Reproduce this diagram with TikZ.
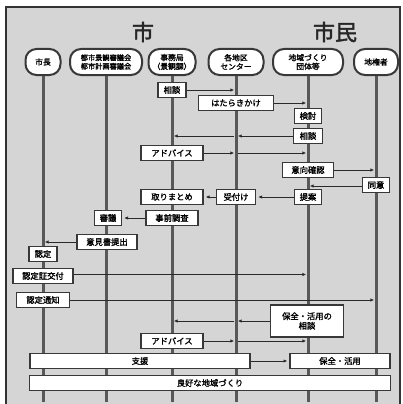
\documentclass[tikz,border=0pt]{standalone}
\usepackage{fontspec}
\newfontfamily\jp[FakeBold=1.6]{Noto Sans CJK JP}
\newfontfamily\jpt[FakeBold=1.8]{Noto Sans CJK JP}
\usetikzlibrary{arrows.meta}
\definecolor{bg}{HTML}{D5D5D5}
\definecolor{bordc}{HTML}{383838}
\definecolor{lifec}{HTML}{585858}
\definecolor{arrc}{HTML}{2A2A2A}
\definecolor{framec}{HTML}{333333}
\begin{document}
\begin{tikzpicture}[x=1pt,y=-1pt,
 hdr/.style={draw=bordc, line width=2pt, fill=white, rounded corners=11pt, minimum height=26pt, inner sep=0pt, align=center, font=\jp\fontsize{7.8}{8.8}\selectfont},
 bx/.style={draw=bordc, line width=1.8pt, fill=white, minimum height=15pt, inner sep=0pt, align=center, font=\jp\fontsize{8.3}{9.6}\selectfont},
 life/.style={draw=lifec, line width=3pt},
 arr/.style={draw=arrc, line width=0.9pt, -{Latex[length=3.8pt,width=3.4pt]}, shorten >=1.8pt},
 ttl/.style={font=\jpt\fontsize{22}{24}\selectfont, text=black!85},
]
\useasboundingbox (0,0) rectangle (402,404);
\fill[white] (0,0) rectangle (402,404);
\draw[fill=bg, draw=framec, line width=2pt] (6,7) rectangle (400,407);

\node[ttl] (t1) at (143,32) {市};
\node[ttl] (t2) at (335,32) {市民};

% headers
\node[hdr, minimum width=35pt] (h1) at (43,62) {市長};
\node[hdr, minimum width=72pt, font=\jp\fontsize{7.2}{8.6}\selectfont] (h2) at (106,62) {都市景観審議会\\都市計画審議会};
\node[hdr, minimum width=47pt] (h3) at (172,62) {事務局\\（景観課）};
\node[hdr, minimum width=55pt] (h4) at (236,62) {各地区\\センター};
\node[hdr, minimum width=70pt] (h5) at (308,62) {地域づくり\\団体等};
\node[hdr, minimum width=44pt] (h6) at (376,62) {地権者};

% lifelines
\coordinate (e1) at (43,402);
\coordinate (e2) at (106,402);
\coordinate (e3) at (172,402);
\coordinate (e4) at (236,402);
\coordinate (e5) at (308,402);
\coordinate (e6) at (376,402);
\draw[life] (h1.south) -- (e1);
\draw[life] (h2.south) -- (e2);
\draw[life] (h3.south) -- (e3);
\draw[life] (h4.south) -- (e4);
\draw[life] (h5.south) -- (e5);
\draw[life] (h6.south) -- (e6);

% boxes
\node[bx, minimum width=28pt] (b1) at (172,90) {相談};
\node[bx, minimum width=75pt] (b2) at (236,103) {はたらきかけ};
\node[bx, minimum width=27pt] (b3) at (308,116) {検討};
\node[bx, minimum width=29pt] (b4) at (308,136) {相談};
\node[bx, minimum width=62pt] (b5) at (172,153) {アドバイス};
\node[bx, minimum width=51pt] (b6) at (308,170) {意向確認};
\node[bx, minimum width=27pt] (b7) at (376,185) {同意};
\node[bx, minimum width=62pt] (b8) at (172,197) {取りまとめ};
\node[bx, minimum width=39pt] (b9) at (236,197) {受付け};
\node[bx, minimum width=27pt] (b10) at (308,197) {提案};
\node[bx, minimum width=27pt] (b11) at (108,218) {審議};
\node[bx, minimum width=52pt] (b12) at (172,218) {事前調査};
\node[bx, minimum width=60pt] (b13) at (107,242) {意見書提出};
\node[bx, minimum width=28pt] (b14) at (43,254) {認定};
\node[bx, minimum width=60pt] (b15) at (43,276) {認定証交付};
\node[bx, minimum width=53pt] (b16) at (43,300) {認定通知};
\node[bx, minimum width=73pt, minimum height=32pt] (b17) at (307,321) {保全・活用の\\相談};
\node[bx, minimum width=62pt] (b18) at (172,341) {アドバイス};
\node[bx, minimum width=220pt] (b19) at (140,361) {支援};
\node[bx, minimum width=100pt] (b20) at (340,361) {保全・活用};
\node[bx, minimum width=361pt] (b21) at (210,383) {良好な地域づくり};

% arrows
\draw[arr] (b1.east) -- (b1.east -| h4);
\draw[arr] (b2.east) -- (b2.east -| h5);
\draw[arr] (b4.west) -- (b4.west -| h4);
\draw[arr, shorten <=1.8pt] (b4.west -| h4) -- (b4.west -| h3);
\draw[arr] (b5.east) -- (b5.east -| h4);
\draw[arr, shorten <=1.8pt] (b5.east -| h4) -- (b5.east -| h5);
\draw[arr] (b6.east) -- (b6.east -| h6);
\draw[arr] ([yshift=-1pt]b7.west) -- ([yshift=-1pt]b7.west -| h5);
\draw[arr] (b10.west) -- (b9.east);
\draw[arr] (b9.west) -- (b8.east);
\draw[arr] (b12.west) -- (b11.east);
\draw[arr] (b13.west) -- (b13.west -| h1);
\draw[arr] ([yshift=1.5pt]b15.east) -- ([yshift=1.5pt]b15.east -| h5);
\draw[arr] (b16.east) -- (b16.east -| h6);
\draw[arr] (b17.west) -- (b17.west -| h4);
\draw[arr, shorten <=1.8pt] (b17.west -| h4) -- (b17.west -| h3);
\draw[arr] (b18.east) -- (b18.east -| h4);
\draw[arr, shorten <=1.8pt] (b18.east -| h4) -- (b18.east -| h5);
\draw[arr] (b19.east) -- (b20.west);
\end{tikzpicture}
\end{document}
